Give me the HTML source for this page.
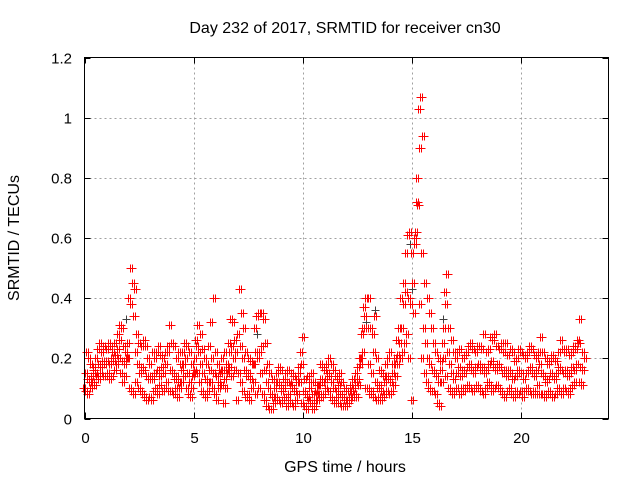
<!DOCTYPE html>
<html><head><meta charset="utf-8"><style>
body{margin:0;background:#fff}
svg{display:block;font-family:"Liberation Sans",sans-serif;font-size:15px}
</style></head><body>
<svg id="chart" width="640" height="480" viewBox="0 0 640 480">
<rect width="640" height="480" fill="#fff"/>
<text x="345" y="33" text-anchor="middle" style="font-size:16px">Day 232 of 2017, SRMTID for receiver cn30</text>
<text x="345" y="472" text-anchor="middle" style="font-size:16px">GPS time / hours</text>
<text transform="translate(19,238) rotate(-90)" text-anchor="middle" style="font-size:16px">SRMTID / TECUs</text>
<g id="grid"></g>
<g id="axes"></g>
<g id="black"></g>
<g id="red"></g>
<rect x="84.5" y="57.5" width="524" height="361" fill="none" stroke="#000"/>
</svg>
<script>
const xTicks=[0,5,10,15,20];
const yTicks=[0,0.2,0.4,0.6,0.8,1,1.2];
const yTickLabels=["0","0.2","0.4","0.6","0.8","1","1.2"];
const hourStarts=[0,1,2,3,4,5,6,7,8,9,10,11,12,13,14,15,16,17,18,19,20,21,22];
const srmtidA=[
.15,.13,.12,.14,.16,.15,.18,.17,.19,.18,
.19,.18,.20,.19,.21,.23,.26,.19,.18,.20,
.40,.38,.34,.22,.18,.15,.17,.16,.14,.13,
.14,.13,.15,.16,.14,.17,.15,.18,.22,.16,
.15,.13,.14,.12,.16,.18,.20,.15,.12,.10,
.20,.24,.22,.18,.15,.13,.12,.16,.20,.15,
.14,.12,.15,.16,.13,.16,.22,.24,.20,.22,
.28,.24,.20,.16,.14,.15,.13,.18,.22,.20,
.22,.24,.16,.12,.10,.08,.07,.10,.12,.11,
.09,.10,.12,.08,.11,.10,.09,.12,.15,.18,
.09,.08,.07,.10,.08,.06,.08,.11,.13,.12,
.13,.15,.14,.12,.10,.09,.11,.08,.07,.06,
.06,.07,.09,.10,.12,.13,.18,.30,.34,.30,
.18,.15,.22,.12,.10,.11,.09,.12,.14,.13,
.12,.15,.18,.21,.25,.30,.38,.42,.40,.38,
.45,.60,.80,.90,.55,.30,.25,.20,.18,.16,
.15,.14,.12,.16,.30,.38,.22,.18,.15,.13,
.15,.17,.14,.16,.15,.17,.18,.16,.15,.17,
.18,.16,.17,.15,.16,.18,.19,.17,.16,.18,
.17,.15,.16,.14,.16,.15,.13,.14,.16,.15,
.15,.13,.15,.16,.17,.15,.14,.16,.18,.15,
.14,.12,.13,.15,.14,.13,.15,.17,.16,.15,
.16,.14,.15,.17,.16,.18,.25,.17,.16];
const srmtidB=[
.22,.20,.18,.17,.20,.23,.25,.22,.24,.23,
.25,.24,.22,.25,.28,.31,.30,.24,.22,.25,
.50,.45,.43,.28,.25,.24,.26,.24,.20,.18,
.22,.20,.22,.24,.21,.20,.22,.24,.31,.25,
.24,.20,.22,.18,.22,.25,.24,.22,.18,.15,
.26,.31,.28,.23,.20,.18,.24,.32,.40,.22,
.18,.16,.20,.22,.18,.25,.33,.32,.26,.28,
.43,.35,.30,.22,.20,.19,.18,.30,.34,.35,
.35,.33,.25,.18,.15,.13,.12,.15,.17,.16,
.13,.15,.16,.12,.15,.14,.13,.17,.22,.27,
.13,.14,.12,.15,.12,.09,.11,.18,.17,.16,
.18,.20,.18,.16,.14,.13,.15,.12,.10,.09,
.09,.11,.13,.15,.17,.20,.28,.37,.40,.40,
.30,.28,.34,.20,.16,.15,.14,.18,.20,.22,
.18,.20,.26,.30,.40,.45,.55,.61,.62,.55,
.58,.72,1.03,1.07,.94,.45,.40,.35,.30,.25,
.22,.20,.19,.25,.42,.48,.30,.26,.22,.20,
.22,.23,.20,.21,.22,.24,.25,.23,.22,.24,
.24,.23,.28,.22,.23,.27,.26,.28,.24,.23,
.25,.22,.25,.21,.23,.22,.19,.20,.23,.22,
.21,.20,.22,.24,.23,.21,.20,.22,.27,.22,
.20,.18,.19,.21,.20,.19,.22,.26,.23,.22,
.23,.21,.22,.24,.23,.26,.33,.22,.20];
const srmtidC=[
.10,.09,.08,.10,.12,.11,.14,.13,.15,.14,
.14,.15,.13,.14,.16,.18,.20,.15,.12,.14,
.20,.10,.09,.08,.12,.10,.09,.08,.07,.06,
.07,.06,.09,.10,.08,.11,.09,.10,.12,.09,
.09,.08,.10,.07,.10,.12,.14,.10,.08,.07,
.14,.16,.15,.12,.09,.08,.07,.09,.12,.10,
.08,.06,.10,.11,.05,.10,.15,.17,.14,.16,
.06,.15,.12,.09,.07,.08,.06,.10,.12,.08,
.10,.15,.08,.06,.04,.03,.03,.05,.07,.06,
.05,.06,.07,.04,.06,.05,.04,.06,.08,.12,
.05,.04,.03,.06,.05,.03,.04,.06,.08,.07,
.08,.10,.09,.07,.06,.05,.07,.05,.04,.04,
.04,.05,.06,.07,.08,.07,.11,.20,.22,.10,
.10,.08,.09,.07,.06,.07,.06,.07,.08,.09,
.08,.09,.11,.14,.18,.20,.22,.25,.28,.20,
.06,.35,.62,.71,.38,.20,.15,.12,.10,.09,
.09,.08,.05,.04,.12,.20,.14,.10,.09,.08,
.09,.10,.08,.10,.09,.10,.11,.10,.09,.10,
.11,.10,.09,.08,.10,.12,.11,.09,.10,.11,
.10,.09,.08,.07,.09,.10,.08,.07,.09,.08,
.09,.07,.09,.10,.09,.08,.09,.08,.11,.08,
.08,.07,.08,.09,.08,.07,.08,.10,.09,.08,
.10,.09,.08,.10,.11,.12,.18,.12,.11];
const blackTimes=[1.9,7.9,12.9,13.3,14.9,15.0,16.4];
const blackValues=[0.33,0.28,0.32,0.36,0.58,0.43,0.33];

const NS="http://www.w3.org/2000/svg";
const X0=84.5,X1=608.5,Y0=418.5,Y1=57.5,XMAX=24,YMAX=1.2;
function xs(t){return X0+(X1-X0)*t/XMAX;}
function ys(v){return Y0-(Y0-Y1)*v/YMAX;}
function mk(tag,attrs,parent){const e=document.createElementNS(NS,tag);for(const k in attrs)e.setAttribute(k,attrs[k]);parent.appendChild(e);return e;}
const grid=document.getElementById('grid'),axes=document.getElementById('axes');
xTicks.forEach((t,i)=>{
  const x=Math.round(xs(t))+0.5;
  if(t>0){const g=mk('line',{x1:x,x2:x,y1:Y1,y2:Y0,stroke:'#a0a0a0','stroke-dasharray':'2,3'},grid);
  
  }
  const tk=mk('path',{d:`M${x} ${Y0}v-6M${x} ${Y1}v6`,stroke:'#000'},axes);
  
  
  const lb=mk('text',{x:x,y:443,'text-anchor':'middle'},axes);lb.textContent=String(t);
  
  
});
yTicks.forEach((v,i)=>{
  const y=Math.round(ys(v))+0.5;
  if(v>0&&v<YMAX){const g=mk('line',{x1:X0,x2:X1,y1:y,y2:y,stroke:'#a0a0a0','stroke-dasharray':'2,3'},grid);
  
  }
  const tk=mk('path',{d:`M${X0} ${y}h6M${X1} ${y}h-6`,stroke:'#000'},axes);
  
  
  const lb=mk('text',{x:72,y:y+5,'text-anchor':'end'},axes);lb.textContent=yTickLabels[i];
  
  
});
function cross(parent,t,v,color,dx){
  const x=Math.round(xs(t)+dx)+0.5,y=Math.round(ys(v))+0.5;
  const p=mk('path',{d:`M${x-4} ${y}h8M${x} ${y-4}v8`,stroke:color,'stroke-width':1},parent);
  
  
}
const blk=document.getElementById('black');
blackTimes.forEach((t,i)=>cross(blk,t,blackValues[i],'#404040',0));
const red=document.getElementById('red');
const seriesList=[srmtidA,srmtidB,srmtidC],offs=[0,1.5,-1.5];
hourStarts.forEach(h=>{
  for(let k=0;k<10;k++){
    const idx=h*10+k;
    seriesList.forEach((s,si)=>{if(idx<s.length){cross(red,h+k/10,s[idx],'#ff0000',offs[si]);cross(red,h+k/10,s[idx],'#ff0000',offs[si]+2);}});
  }
});
</script>
</body></html>
